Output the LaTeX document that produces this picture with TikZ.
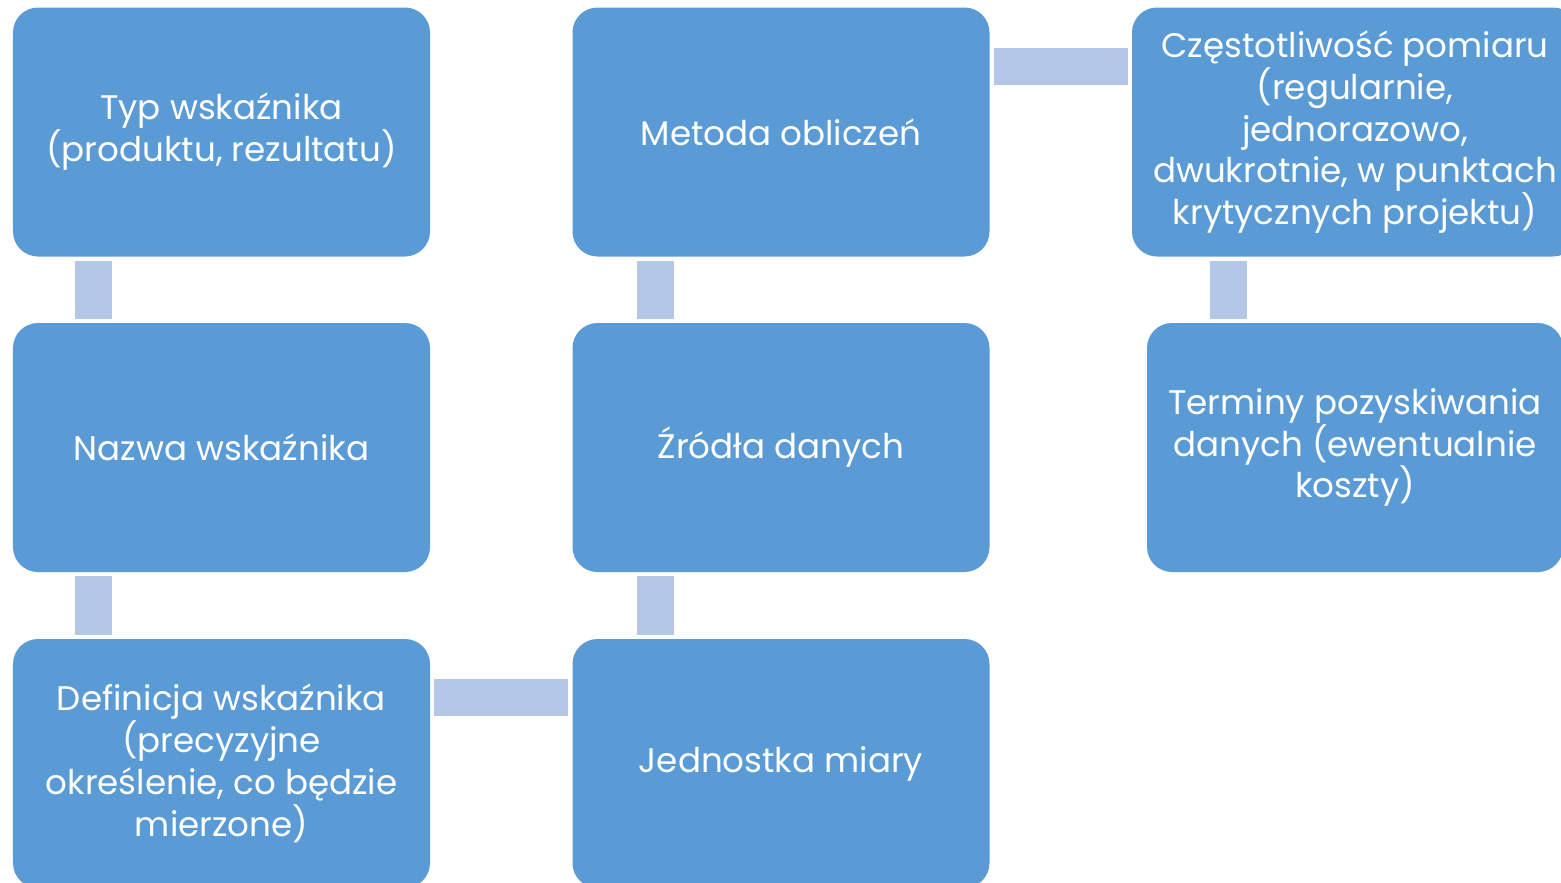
\documentclass[tikz,border=0pt]{standalone}
\usepackage{fontspec}
\setmainfont{Poppins}
\usepackage{xcolor}
\usetikzlibrary{positioning}
\definecolor{boxblue}{HTML}{5B9BD5}
\definecolor{barblue}{HTML}{B4C7E7}
\tikzset{
    pole/.style={rectangle, rounded corners=0.25cm, fill=boxblue, text=white,
        align=center, minimum width=4.17cm, minimum height=2.49cm, inner sep=0pt,
        font=\fontsize{9.7}{11.9}\selectfont},
    link/.style={draw=barblue, line width=0.37cm, shorten <=0.035cm, shorten >=0.035cm}
}

\begin{document}
\begin{tikzpicture}[x=1cm, y=1cm]
                        \useasboundingbox (0, 0) rectangle (15.61, -8.83);
                        \clip (0, 0) rectangle (15.61, -8.83);
                        \node[pole] (typ) at (2.215, -1.32) {Typ wskaźnika\\(produktu, rezultatu)};
                        \node[pole] (nazwa) at (2.215, -4.475) {Nazwa wskaźnika};
                        \node[pole] (definicja) at (2.215, -7.635) {Definicja wskaźnika\\(precyzyjne\\określenie, co będzie\\mierzone)};
                        \node[pole] (metoda) at (7.81, -1.32) {Metoda obliczeń};
                        \node[pole] (zrodla) at (7.81, -4.475) {Źródła danych};
                        \node[pole] (jednostka) at (7.81, -7.635) {Jednostka miary};
                        \node[pole, minimum width=4.46cm] (czestotliwosc) at (13.55, -1.32) {Częstotliwość pomiaru\\(regularnie,\\jednorazowo,\\dwukrotnie, w punktach\\krytycznych projektu)};
                        \node[pole, minimum width=4.16cm] (terminy) at (13.55, -4.475) {Terminy pozyskiwania\\danych (ewentualnie\\koszty)};
                        \coordinate (terminyBar) at ([xshift=0.825cm]terminy.north west);
                        \draw[link]
                        ([xshift=0.815cm]typ.south west) -- ([xshift=0.815cm]nazwa.north west);
                        \draw[link]
                        ([xshift=0.815cm]nazwa.south west) -- ([xshift=0.815cm]definicja.north west);
                        \draw[link]
                        ([yshift=-0.595cm]definicja.north east) -- ([yshift=-0.595cm]jednostka.north west);
                        \draw[link]
                        ([xshift=0.835cm]zrodla.south west) -- ([xshift=0.835cm]jednostka.north west);
                        \draw[link]
                        ([xshift=0.835cm]metoda.south west) -- ([xshift=0.835cm]zrodla.north west);
                        \draw[link]
                        ([yshift=-0.6cm]metoda.north east) -- ([yshift=-0.6cm]czestotliwosc.north west);
                        \draw[link]
                        (terminyBar |- czestotliwosc.south) -- (terminyBar);
                    \end{tikzpicture}
\end{document}
